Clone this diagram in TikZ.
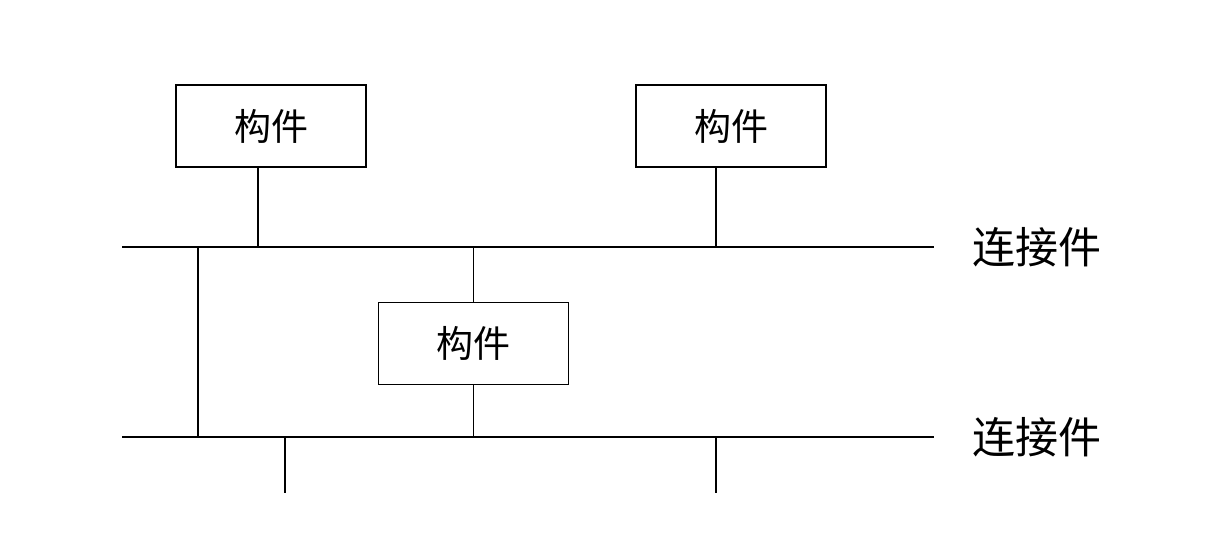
\documentclass[tikz,border=0pt]{standalone}
\usepackage{fontspec}
\newfontfamily\cjk{Noto Sans CJK SC}
\begin{document}
\begin{tikzpicture}[x=1pt,y=-1pt,line width=1.6pt,
  comp/.style={draw,minimum width=190pt,minimum height=82pt,inner sep=0pt,font=\cjk\fontsize{37}{40}\selectfont},
  lbl/.style={font=\cjk\fontsize{43}{46}\selectfont,anchor=west,inner sep=0pt}]
\useasboundingbox (0,0) rectangle (1206,558);
\node[comp] (c1) at (271,126) {构件};
\node[comp] (c2) at (731,126) {构件};
\node[comp] (c3) at (473.5,343.5) {构件};
\coordinate (b1l) at (122,247); \coordinate (b1r) at (934,247);
\coordinate (b2l) at (122,437); \coordinate (b2r) at (934,437);
\draw (b1l) -- (b1r);
\draw (b2l) -- (b2r);
\node[lbl] (l1) at (972,247) {连接件};
\node[lbl] (l2) at (972,437) {连接件};
\coordinate (p1) at (258,247); \coordinate (p2) at (716,247);
\coordinate (p3) at (473.5,247); \coordinate (p4) at (473.5,437);
\coordinate (q1) at (198,247); \coordinate (q2) at (198,437);
\coordinate (s1) at (285,437); \coordinate (s1e) at (285,493);
\coordinate (s2) at (716,437); \coordinate (s2e) at (716,493);
\draw (c1.south -| p1) -- (p1);
\draw (c2.south -| p2) -- (p2);
\draw (p3) -- (c3.north);
\draw (c3.south) -- (p4);
\draw (q1) -- (q2);
\draw (s1) -- (s1e);
\draw (s2) -- (s2e);
\end{tikzpicture}
\end{document}
